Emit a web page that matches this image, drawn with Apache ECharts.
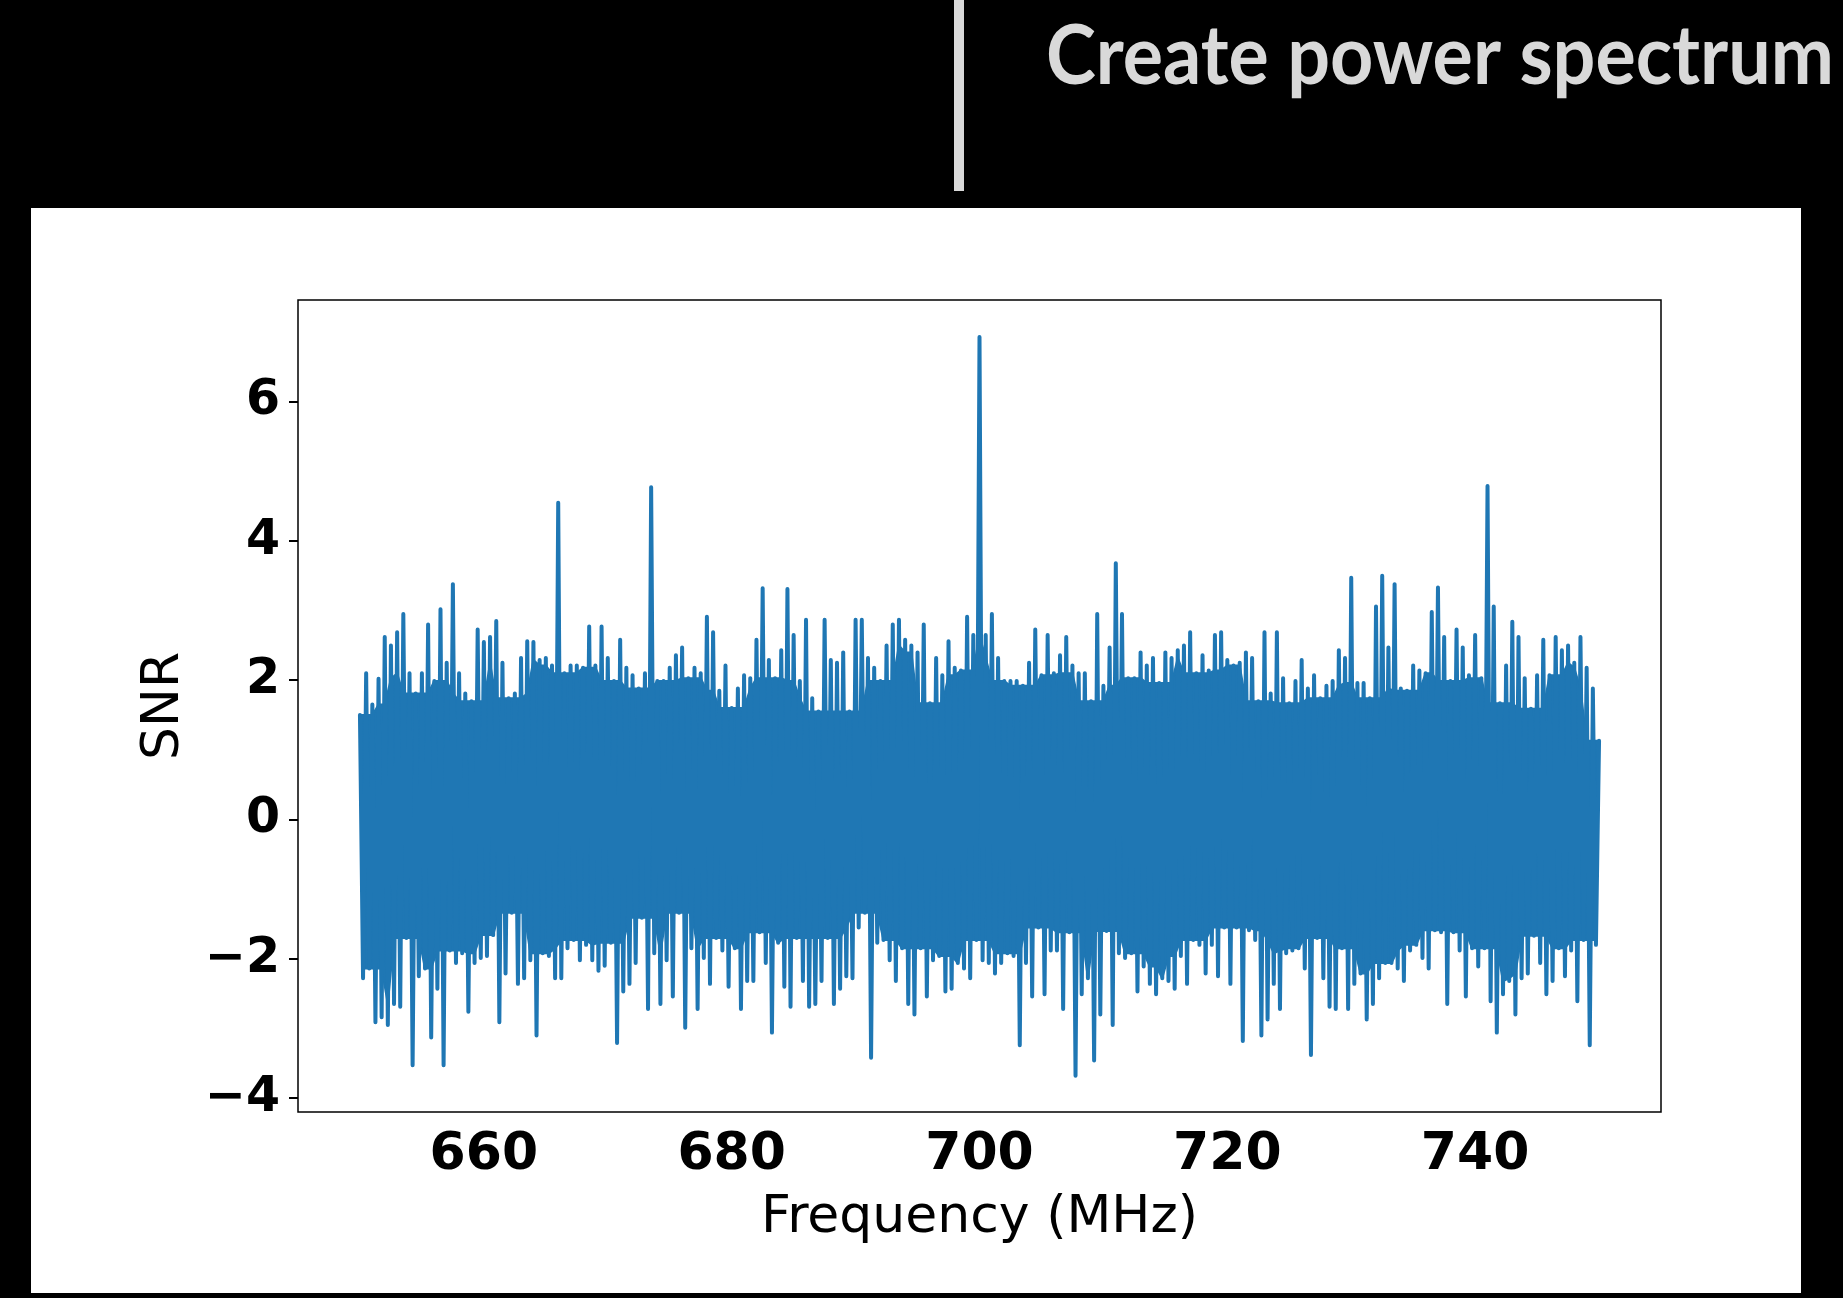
<!DOCTYPE html>
<html>
<head>
<meta charset="utf-8">
<title>Create power spectrum</title>
<script src="https://cdn.jsdelivr.net/npm/echarts@6/dist/echarts.min.js"></script>
<style>
  html, body { margin: 0; padding: 0; background: #000; }
  #chart { width: 1843px; height: 1298px; }
</style>
</head>
<body>
<div id="chart"></div>
<script>
// Spectrum channels: per 0.5 MHz bin, the highest SNR (at the bin start)
// and the lowest SNR (a quarter-MHz later), 650–750 MHz.
const freqStart = 650;
const binWidth = 0.5;

const snrPeak = [
  1.50, 2.10, 1.65, 2.02, 2.62, 2.50, 2.69, 2.95, 2.10, 1.81,
  2.10, 2.80, 1.99, 3.02, 2.25, 3.38, 2.10, 1.81, 1.70, 2.73,
  2.55, 2.62, 2.85, 2.25, 1.74, 1.81, 2.32, 2.56, 2.55, 2.29,
  2.32, 2.21, 4.55, 2.10, 2.21, 2.21, 2.18, 2.77, 2.21, 2.77,
  2.32, 1.99, 2.58, 2.18, 2.07, 1.88, 2.10, 4.77, 1.99, 1.99,
  2.18, 2.36, 2.47, 2.03, 2.18, 2.10, 2.91, 2.69, 1.85, 2.21,
  1.60, 1.88, 2.07, 2.03, 2.58, 3.32, 2.29, 2.03, 2.43, 3.31,
  2.65, 1.99, 2.87, 1.74, 1.55, 2.87, 2.29, 2.25, 2.40, 1.55,
  2.87, 2.87, 2.32, 2.18, 1.99, 2.50, 2.80, 2.87, 2.58, 2.50,
  2.40, 2.80, 1.67, 2.32, 2.07, 2.56, 2.18, 2.14, 2.91, 2.65,
  6.93, 2.65, 2.95, 2.32, 1.99, 1.99, 1.99, 1.92, 2.25, 2.73,
  2.07, 2.65, 2.10, 2.36, 2.62, 2.21, 2.10, 2.10, 1.70, 2.95,
  1.92, 2.47, 3.68, 2.95, 2.03, 2.03, 2.40, 2.21, 2.32, 1.96,
  2.40, 2.32, 2.43, 2.50, 2.69, 2.10, 2.36, 2.14, 2.65, 2.69,
  2.29, 2.21, 2.25, 2.40, 2.32, 1.70, 2.69, 1.81, 2.69, 2.03,
  1.67, 1.99, 2.29, 1.88, 2.07, 1.74, 1.92, 1.99, 2.43, 2.32,
  3.47, 1.96, 1.96, 1.74, 3.06, 3.50, 2.47, 3.38, 1.88, 1.85,
  2.21, 2.14, 2.10, 2.98, 3.33, 2.62, 1.99, 2.73, 2.47, 2.07,
  2.65, 2.03, 4.79, 3.06, 1.67, 2.21, 2.84, 2.62, 2.03, 1.59,
  2.07, 2.58, 2.07, 2.62, 2.43, 2.50, 2.25, 2.62, 2.18, 1.88,
  1.13
];

const snrTrough = [
  -2.28, -2.14, -2.91, -2.84, -2.95, -2.65, -2.69, -1.70, -3.53, -2.25,
  -2.14, -3.13, -2.43, -3.53, -1.88, -2.06, -1.92, -2.76, -2.06, -1.99,
  -1.96, -1.66, -2.91, -2.21, -1.34, -2.36, -2.28, -2.02, -3.10, -1.92,
  -1.96, -2.28, -2.28, -1.85, -1.73, -2.02, -1.80, -2.02, -2.17, -2.10,
  -1.77, -3.21, -2.47, -2.36, -2.06, -1.41, -2.72, -1.92, -2.65, -2.02,
  -2.54, -1.34, -2.99, -1.85, -2.72, -1.99, -2.36, -1.70, -1.88, -2.40,
  -1.85, -2.72, -2.32, -2.32, -1.62, -2.06, -3.06, -1.77, -2.40, -2.69,
  -1.70, -2.32, -2.69, -2.65, -2.32, -1.70, -2.65, -2.43, -2.25, -2.28,
  -1.55, -1.34, -3.42, -1.77, -1.73, -2.02, -2.32, -1.85, -2.65, -2.80,
  -1.85, -2.54, -2.02, -1.96, -2.47, -2.43, -2.06, -2.14, -2.28, -1.73,
  -2.02, -2.06, -2.21, -2.06, -1.92, -1.96, -3.24, -2.06, -2.54, -1.55,
  -2.51, -1.88, -1.88, -2.72, -1.62, -3.68, -2.51, -2.28, -3.46, -2.80,
  -1.60, -2.95, -1.92, -1.99, -1.92, -2.47, -2.11, -2.36, -2.51, -2.28,
  -2.32, -2.43, -1.96, -2.36, -1.73, -1.80, -2.21, -1.80, -2.25, -1.55,
  -2.36, -1.55, -3.18, -1.59, -1.73, -3.10, -2.87, -2.36, -2.72, -1.92,
  -1.88, -1.85, -2.14, -3.38, -1.70, -2.28, -2.69, -2.72, -1.85, -2.72,
  -2.36, -2.21, -2.87, -2.65, -2.28, -2.06, -2.06, -2.14, -2.32, -1.88,
  -1.80, -1.99, -2.14, -1.59, -1.62, -2.65, -1.62, -1.88, -2.54, -1.85,
  -2.11, -1.85, -2.61, -3.06, -2.51, -2.32, -2.80, -2.28, -2.21, -1.67,
  -2.06, -2.51, -2.32, -1.85, -2.25, -1.88, -2.61, -1.73, -3.24, -1.80
];

// Axis ticks
const xTicks = [660, 680, 700, 720, 740];
const yTicks = [-4, -2, 0, 2, 4, 6];

const LINE_BLUE = '#1f77b4';

// Interleave peaks and troughs into one trace
const trace = [];
for (let k = 0; k < snrPeak.length; k++) {
  trace.push([freqStart + k * binWidth, snrPeak[k]]);
  if (k < snrTrough.length) {
    trace.push([freqStart + k * binWidth + binWidth / 2, snrTrough[k]]);
  }
}

// Solid body of the trace: where neighbouring channels overlap, the
// strokes merge; use the lowest peak / highest trough of nearby bins.
const REACH = 2;
function neighbourExtreme(arr, k, pick) {
  let v = arr[k];
  for (let j = Math.max(0, k - REACH); j <= Math.min(arr.length - 1, k + REACH); j++) {
    v = pick(v, arr[j]);
  }
  return v;
}

const chart = echarts.init(document.getElementById('chart'), null, { renderer: 'canvas' });

chart.setOption({
  backgroundColor: '#000',
  animation: false,
  graphic: [
    {
      type: 'rect', z: -10, silent: true,
      shape: { x: 31, y: 208, width: 1770, height: 1085 },
      style: { fill: '#fff' }
    },
    {
      type: 'rect', silent: true,
      shape: { x: 954, y: 0, width: 10, height: 191 },
      style: { fill: '#d9d9d9' }
    },
    {
      type: 'text', silent: true,
      x: 1834, y: 57, scaleX: 0.909,
      style: {
        text: 'Create power spectrum',
        fill: '#d9d9d9',
        font: 'bold 83px Lato, "Open Sans", sans-serif',
        align: 'right',
        verticalAlign: 'middle'
      }
    }
  ],
  grid: {
    left: 298, top: 300, width: 1363, height: 812,
    show: true, backgroundColor: '#fff',
    borderColor: '#000', borderWidth: 1.5
  },
  xAxis: {
    type: 'value', min: 645, max: 755,
    name: 'Frequency (MHz)', nameLocation: 'middle', nameGap: 80,
    nameTextStyle: { fontFamily: 'DejaVu Sans', fontSize: 52, color: '#000' },
    axisLine: { show: false },
    splitLine: { show: false },
    axisTick: { show: true, customValues: xTicks, length: 9, lineStyle: { color: '#000', width: 2 } },
    axisLabel: {
      customValues: xTicks, margin: 17,
      fontFamily: 'DejaVu Sans', fontWeight: 'bold', fontSize: 52, color: '#000'
    }
  },
  yAxis: {
    type: 'value', min: -4.2, max: 7.46,
    name: 'SNR', nameLocation: 'middle', nameGap: 108,
    nameTextStyle: { fontFamily: 'DejaVu Sans', fontSize: 52, color: '#000' },
    axisLine: { show: false },
    splitLine: { show: false },
    axisTick: { show: true, customValues: yTicks, length: 9, lineStyle: { color: '#000', width: 2 } },
    axisLabel: {
      customValues: yTicks, margin: 18, formatter: v => (v < 0 ? '\u2212' + Math.abs(v) : String(v)),
      fontFamily: 'DejaVu Sans', fontWeight: 'bold', fontSize: 49, color: '#000'
    }
  },
  series: [
    {
      type: 'custom', z: 2, silent: true,
      data: [[freqStart, 0]],
      encode: { x: 0, y: 1 },
      renderItem: function (params, api) {
        const pts = [];
        for (let k = 0; k < snrPeak.length; k++) {
          pts.push(api.coord([freqStart + k * binWidth,
                              neighbourExtreme(snrPeak, k, Math.min)]));
        }
        for (let k = snrTrough.length - 1; k >= 0; k--) {
          pts.push(api.coord([freqStart + k * binWidth + binWidth / 2,
                              neighbourExtreme(snrTrough, k, Math.max)]));
        }
        return {
          type: 'polygon',
          shape: { points: pts },
          style: { fill: LINE_BLUE, stroke: LINE_BLUE, lineWidth: 2, lineJoin: 'round' }
        };
      }
    },
    {
      type: 'line', z: 3, silent: true,
      data: trace,
      showSymbol: false, symbol: 'none',
      sampling: null,
      lineStyle: { color: LINE_BLUE, width: 4, cap: 'round', join: 'round' }
    }
  ]
});
</script>
</body>
</html>
